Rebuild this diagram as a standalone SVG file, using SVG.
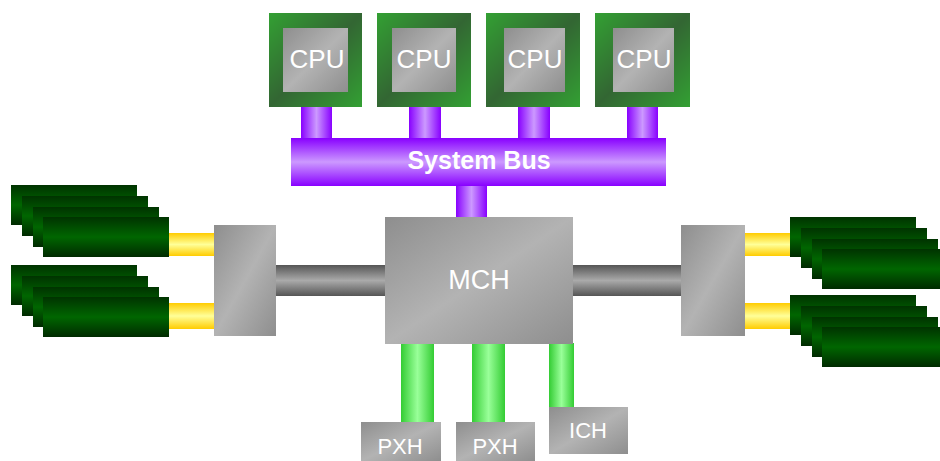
<svg xmlns="http://www.w3.org/2000/svg" width="940" height="461" viewBox="0 0 940 461">
<defs>
<linearGradient id="gCpu" x1="0" y1="0" x2="1" y2="1">
<stop offset="0" stop-color="#33a033"/><stop offset="0.5" stop-color="#336633"/><stop offset="1" stop-color="#33a033"/>
</linearGradient>
<linearGradient id="gGray" x1="0" y1="0" x2="1" y2="1">
<stop offset="0" stop-color="#8e8e8e"/><stop offset="0.5" stop-color="#b3b3b3"/><stop offset="1" stop-color="#8e8e8e"/>
</linearGradient>
<linearGradient id="gPurpleV" x1="0" y1="0" x2="1" y2="0">
<stop offset="0" stop-color="#8800ff"/><stop offset="0.5" stop-color="#cc99ff"/><stop offset="1" stop-color="#8800ff"/>
</linearGradient>
<linearGradient id="gPurpleH" x1="0" y1="0" x2="0" y2="1">
<stop offset="0" stop-color="#8800ff"/><stop offset="0.5" stop-color="#cc99ff"/><stop offset="1" stop-color="#8800ff"/>
</linearGradient>
<linearGradient id="gGreenV" x1="0" y1="0" x2="1" y2="0">
<stop offset="0" stop-color="#33cc33"/><stop offset="0.5" stop-color="#99ff99"/><stop offset="1" stop-color="#33cc33"/>
</linearGradient>
<linearGradient id="gYellow" x1="0" y1="0" x2="0" y2="1">
<stop offset="0" stop-color="#ffcc00"/><stop offset="0.5" stop-color="#ffff99"/><stop offset="1" stop-color="#ffcc00"/>
</linearGradient>
<linearGradient id="gBar" x1="0" y1="0" x2="0" y2="1">
<stop offset="0" stop-color="#555555"/><stop offset="0.5" stop-color="#aaaaaa"/><stop offset="1" stop-color="#555555"/>
</linearGradient>
<linearGradient id="gCard" x1="0" y1="0" x2="0" y2="1">
<stop offset="0" stop-color="#003300"/><stop offset="0.5" stop-color="#006600"/><stop offset="1" stop-color="#002a00"/>
</linearGradient>
<g id="stack">
<rect x="0" y="0" width="126" height="40" fill="url(#gCard)"/>
<rect x="11" y="11" width="126" height="40" fill="url(#gCard)"/>
<rect x="22" y="22" width="126" height="40" fill="url(#gCard)"/>
<rect x="32" y="32" width="126" height="40" fill="url(#gCard)"/>
</g>
</defs>
<style>
.t{font-family:"Liberation Sans",Arial,sans-serif;fill:#ffffff;text-anchor:middle}
.cpu{font-size:26px}
.bus{font-size:25px;font-weight:bold}
.mch{font-size:27px}
.sm{font-size:22px}
</style>

<g id="connectors">
<rect x="301" y="106" width="31" height="33" fill="url(#gPurpleV)"/>
<rect x="409" y="106" width="32" height="33" fill="url(#gPurpleV)"/>
<rect x="518" y="106" width="32" height="33" fill="url(#gPurpleV)"/>
<rect x="627" y="106" width="31" height="33" fill="url(#gPurpleV)"/>
<rect x="456" y="185" width="31" height="32" fill="url(#gPurpleV)"/>
<rect x="275" y="265" width="111" height="31" fill="url(#gBar)"/>
<rect x="572" y="265" width="110" height="31" fill="url(#gBar)"/>
<rect x="168" y="233" width="47" height="23" fill="url(#gYellow)"/>
<rect x="168" y="303" width="47" height="26" fill="url(#gYellow)"/>
<rect x="744" y="233" width="47" height="23" fill="url(#gYellow)"/>
<rect x="744" y="303" width="47" height="26" fill="url(#gYellow)"/>
<rect x="401" y="343" width="33" height="80" fill="url(#gGreenV)"/>
<rect x="472" y="343" width="33" height="80" fill="url(#gGreenV)"/>
<rect x="549" y="343" width="25" height="65" fill="url(#gGreenV)"/>
</g>

<g id="cpu1"><rect x="269" y="13" width="93" height="94" fill="url(#gCpu)"/><rect x="283" y="28" width="65" height="64" fill="url(#gGray)"/><text class="t cpu" x="317" y="68">CPU</text></g>
<g id="cpu2"><rect x="377" y="13" width="94" height="94" fill="url(#gCpu)"/><rect x="392" y="28" width="64" height="64" fill="url(#gGray)"/><text class="t cpu" x="424" y="68">CPU</text></g>
<g id="cpu3"><rect x="486" y="13" width="94" height="94" fill="url(#gCpu)"/><rect x="504" y="28" width="61" height="64" fill="url(#gGray)"/><text class="t cpu" x="535" y="68">CPU</text></g>
<g id="cpu4"><rect x="595" y="13" width="95" height="94" fill="url(#gCpu)"/><rect x="613" y="28" width="61" height="64" fill="url(#gGray)"/><text class="t cpu" x="644" y="68">CPU</text></g>

<g id="systembus"><rect x="291" y="138" width="375" height="48" fill="url(#gPurpleH)"/><text class="t bus" x="479" y="169">System Bus</text></g>

<g id="mch"><rect x="385" y="217" width="188" height="127" fill="url(#gGray)"/><text class="t mch" x="479" y="289">MCH</text></g>

<g id="bridgeLeft"><rect x="214" y="225" width="62" height="111" fill="url(#gGray)"/></g>
<g id="bridgeRight"><rect x="681" y="225" width="64" height="111" fill="url(#gGray)"/></g>

<g id="memLeftTop"><use href="#stack" x="11" y="185"/></g>
<g id="memLeftBottom"><use href="#stack" x="11" y="265"/></g>
<g id="memRightTop"><use href="#stack" x="790" y="217"/></g>
<g id="memRightBottom"><use href="#stack" x="790" y="295"/></g>

<g id="pxh1"><rect x="361" y="422" width="80" height="39" fill="url(#gGray)"/><text class="t sm" x="400" y="454">PXH</text></g>
<g id="pxh2"><rect x="456" y="422" width="79" height="39" fill="url(#gGray)"/><text class="t sm" x="495" y="454">PXH</text></g>
<g id="ich"><rect x="549" y="407" width="79" height="47" fill="url(#gGray)"/><text class="t sm" x="588" y="438">ICH</text></g>
</svg>
